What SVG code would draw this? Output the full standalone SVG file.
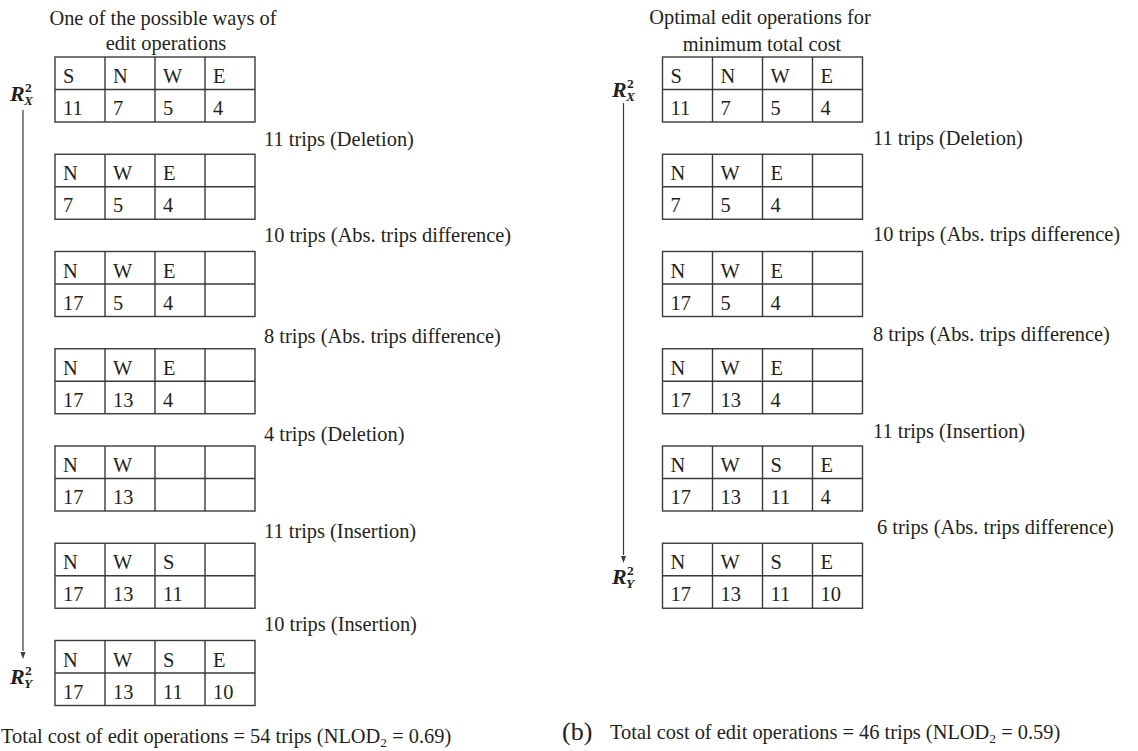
<svg xmlns="http://www.w3.org/2000/svg" xmlns:xlink="http://www.w3.org/1999/xlink" width="1138" height="751" viewBox="0 0 1138 751">
<style>
text{font-family:"Liberation Serif","Times New Roman",serif;font-size:20.4px;fill:#231f20}
.cell{fill:none;stroke:#3a3a3a;stroke-width:1.4}
.math{font-weight:bold;font-style:italic;font-size:22px}
.sm{font-size:13.5px}
.up{font-style:normal}
.conn{stroke:#3a3a3a;stroke-width:1.2;fill:none}
</style>
<defs>
<g id="tgrid"><rect x="0" y="0" width="200" height="65" class="cell"/><path d="M0 32.5H200M50 0V65M100 0V65M150 0V65" class="cell"/></g>
</defs>

<g id="headers">
<text x="163" y="25" text-anchor="middle">One of the possible ways of</text>
<text x="166" y="50" text-anchor="middle">edit operations</text>
<text x="760" y="24" text-anchor="middle">Optimal edit operations for</text>
<text x="762" y="51" text-anchor="middle">minimum total cost</text>
</g>

<g id="connectors">
<line class="conn" x1="23" y1="110" x2="23" y2="651"/>
<path d="M20.5 652L25.5 652L23 659Z" fill="#3a3a3a"/>
<line class="conn" x1="623.5" y1="103" x2="623.5" y2="555"/>
<path d="M621 556L626 556L623.5 563Z" fill="#3a3a3a"/>
</g>

<g id="RX_left"><text x="10" y="101" class="math">R<tspan class="sm up" x="25" y="92">2</tspan><tspan class="sm" x="24" y="104.5">X</tspan></text></g>
<g id="RY_left"><text x="10" y="684" class="math">R<tspan class="sm up" x="25" y="675">2</tspan><tspan class="sm" x="24" y="687.5">Y</tspan></text></g>
<g id="RX_right"><text x="612" y="97" class="math">R<tspan class="sm up" x="627" y="88">2</tspan><tspan class="sm" x="626" y="100.5">X</tspan></text></g>
<g id="RY_right"><text x="612" y="584" class="math">R<tspan class="sm up" x="627" y="575">2</tspan><tspan class="sm" x="626" y="587.5">Y</tspan></text></g>

<g id="L1" transform="translate(55,57)"><use xlink:href="#tgrid"/><text x="8" y="26">S</text><text x="58" y="26">N</text><text x="108" y="26">W</text><text x="158" y="26">E</text><text x="8" y="58">11</text><text x="58" y="58">7</text><text x="108" y="58">5</text><text x="158" y="58">4</text></g>
<g id="L2" transform="translate(55,154.25)"><use xlink:href="#tgrid"/><text x="8" y="26">N</text><text x="58" y="26">W</text><text x="108" y="26">E</text><text x="8" y="58">7</text><text x="58" y="58">5</text><text x="108" y="58">4</text></g>
<g id="L3" transform="translate(55,251.5)"><use xlink:href="#tgrid"/><text x="8" y="26">N</text><text x="58" y="26">W</text><text x="108" y="26">E</text><text x="8" y="58">17</text><text x="58" y="58">5</text><text x="108" y="58">4</text></g>
<g id="L4" transform="translate(55,348.75)"><use xlink:href="#tgrid"/><text x="8" y="26">N</text><text x="58" y="26">W</text><text x="108" y="26">E</text><text x="8" y="58">17</text><text x="58" y="58">13</text><text x="108" y="58">4</text></g>
<g id="L5" transform="translate(55,446)"><use xlink:href="#tgrid"/><text x="8" y="26">N</text><text x="58" y="26">W</text><text x="8" y="58">17</text><text x="58" y="58">13</text></g>
<g id="L6" transform="translate(55,543.25)"><use xlink:href="#tgrid"/><text x="8" y="26">N</text><text x="58" y="26">W</text><text x="108" y="26">S</text><text x="8" y="58">17</text><text x="58" y="58">13</text><text x="108" y="58">11</text></g>
<g id="L7" transform="translate(55,640.5)"><use xlink:href="#tgrid"/><text x="8" y="26">N</text><text x="58" y="26">W</text><text x="108" y="26">S</text><text x="158" y="26">E</text><text x="8" y="58">17</text><text x="58" y="58">13</text><text x="108" y="58">11</text><text x="158" y="58">10</text></g>

<g id="R1" transform="translate(662.5,57)"><use xlink:href="#tgrid"/><text x="8" y="26">S</text><text x="58" y="26">N</text><text x="108" y="26">W</text><text x="158" y="26">E</text><text x="8" y="58">11</text><text x="58" y="58">7</text><text x="108" y="58">5</text><text x="158" y="58">4</text></g>
<g id="R2" transform="translate(662.5,154.25)"><use xlink:href="#tgrid"/><text x="8" y="26">N</text><text x="58" y="26">W</text><text x="108" y="26">E</text><text x="8" y="58">7</text><text x="58" y="58">5</text><text x="108" y="58">4</text></g>
<g id="R3" transform="translate(662.5,251.5)"><use xlink:href="#tgrid"/><text x="8" y="26">N</text><text x="58" y="26">W</text><text x="108" y="26">E</text><text x="8" y="58">17</text><text x="58" y="58">5</text><text x="108" y="58">4</text></g>
<g id="R4" transform="translate(662.5,348.75)"><use xlink:href="#tgrid"/><text x="8" y="26">N</text><text x="58" y="26">W</text><text x="108" y="26">E</text><text x="8" y="58">17</text><text x="58" y="58">13</text><text x="108" y="58">4</text></g>
<g id="R5" transform="translate(662.5,446)"><use xlink:href="#tgrid"/><text x="8" y="26">N</text><text x="58" y="26">W</text><text x="108" y="26">S</text><text x="158" y="26">E</text><text x="8" y="58">17</text><text x="58" y="58">13</text><text x="108" y="58">11</text><text x="158" y="58">4</text></g>
<g id="R6" transform="translate(662.5,543.25)"><use xlink:href="#tgrid"/><text x="8" y="26">N</text><text x="58" y="26">W</text><text x="108" y="26">S</text><text x="158" y="26">E</text><text x="8" y="58">17</text><text x="58" y="58">13</text><text x="108" y="58">11</text><text x="158" y="58">10</text></g>

<g id="labels">
<text x="264" y="146">11 trips (Deletion)</text>
<text x="264" y="242">10 trips (Abs. trips difference)</text>
<text x="264" y="343">8 trips (Abs. trips difference)</text>
<text x="264" y="441">4 trips (Deletion)</text>
<text x="264" y="538">11 trips (Insertion)</text>
<text x="264" y="631">10 trips (Insertion)</text>
<text x="873" y="145">11 trips (Deletion)</text>
<text x="873" y="241">10 trips (Abs. trips difference)</text>
<text x="873" y="341">8 trips (Abs. trips difference)</text>
<text x="873" y="438">11 trips (Insertion)</text>
<text x="877" y="534">6 trips (Abs. trips difference)</text>
</g>

<g id="totals">
<text x="1" y="743">Total cost of edit operations = 54 trips (NLOD<tspan class="sm" dy="4">2</tspan><tspan dy="-4"> = 0.69)</tspan></text>
<text x="562" y="740" style="font-size:26px">(b)</text>
<text x="610" y="739">Total cost of edit operations = 46 trips (NLOD<tspan class="sm" dy="4">2</tspan><tspan dy="-4"> = 0.59)</tspan></text>
</g>
</svg>
